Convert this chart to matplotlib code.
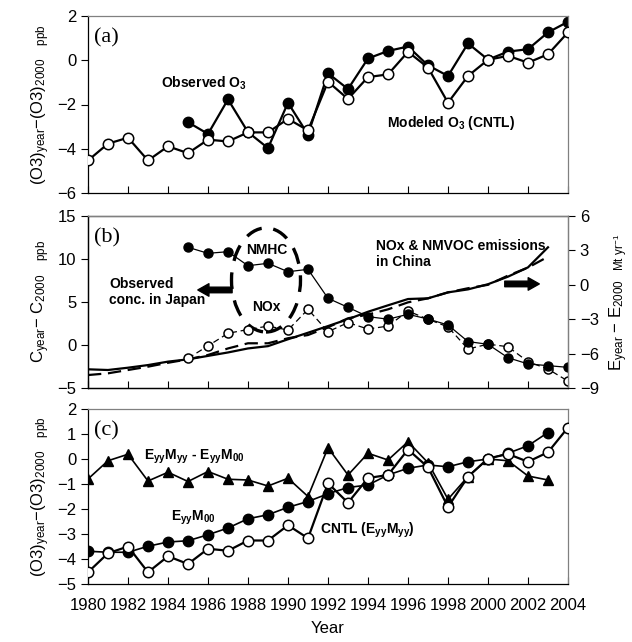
import matplotlib.pyplot as plt
from matplotlib.patches import Ellipse

plt.rcParams['font.family'] = ['Liberation Sans Narrow', 'Liberation Sans', 'DejaVu Sans']
plt.rcParams['mathtext.default'] = 'regular'
plt.rcParams['axes.linewidth'] = 0.9

years = list(range(1980, 2005))
obs_years = list(range(1985, 2005))
emis_years = list(range(1980, 2004))
eyy_years = list(range(1980, 2004))

# (a) surface O3 anomalies relative to 2000, ppb
obs_o3 = [-2.80, -3.33, -1.77, -3.25, -3.97, -1.92, -3.36, -0.59, -1.30, 0.08,
          0.42, 0.62, -0.23, -0.71, 0.76, 0.03, 0.39, 0.50, 1.26, 1.74]
cntl_o3 = [-4.53, -3.77, -3.50, -4.53, -3.89, -4.20, -3.59, -3.67, -3.26, -3.26,
           -2.65, -3.17, -0.97, -1.75, -0.76, -0.64, 0.38, -0.33, -1.92, -0.71,
           0.02, 0.20, -0.11, 0.27, 1.26]

# (b) observed precursor concentrations in Japan (left axis, ppb)
nmhc = [11.36, 10.66, 10.85, 9.22, 9.50, 8.52, 8.80, 5.43, 4.38, 3.30,
        3.00, 3.57, 3.02, 2.33, 0.40, 0.08, -1.48, -2.20, -2.40, -2.60]
nox_obs = [-1.55, -0.10, 1.36, 1.80, 2.20, 1.74, 4.15, 1.55, 2.60, 1.86,
           2.20, 3.95, 3.00, 2.10, -0.47, 0.10, -0.20, -1.94, -2.80, -4.20]

# (b) emissions in China relative to 2000 (right axis, Mt/yr)
nox_emis = [-7.37, -7.43, -7.23, -7.00, -6.70, -6.50, -6.20, -5.90, -5.55, -5.35,
            -4.75, -4.18, -3.60, -3.00, -2.35, -1.79, -1.24, -1.18, -0.66, -0.40,
            0.05, 0.71, 1.52, 3.27]
nmvoc_emis = [-7.87, -7.72, -7.43, -7.14, -6.80, -6.50, -6.12, -5.55, -5.10, -5.10,
              -4.66, -4.38, -3.70, -2.92, -2.60, -2.14, -1.53, -1.18, -0.66, -0.30,
              0.00, 0.80, 1.50, 2.45]

# (c) sensitivity runs
eyy_m00 = [-3.69, -3.73, -3.73, -3.49, -3.32, -3.27, -3.03, -2.76, -2.39, -2.23,
           -1.93, -1.70, -1.39, -1.14, -1.04, -0.64, -0.37, -0.24, -0.31, -0.11,
           0.00, 0.23, 0.53, 1.06]
met_effect = [-0.80, -0.07, 0.19, -0.88, -0.53, -0.90, -0.50, -0.81, -0.84, -1.08,
              -0.77, -1.50, 0.45, -0.64, 0.23, -0.04, 0.69, -0.15, -1.61, -0.70,
              0.00, -0.07, -0.68, -0.84]

xticks = list(range(1980, 2005, 2))

W_PX, H_PX = 632, 642
fig = plt.figure(figsize=(W_PX / 100, H_PX / 100), dpi=100)
L, W = 88 / W_PX, 480 / W_PX
ax_a = fig.add_axes([L, 1 - 193 / H_PX, W, 177 / H_PX])
ax_b = fig.add_axes([L, 1 - 388 / H_PX, W, 172 / H_PX])
ax_c = fig.add_axes([L, 1 - 584 / H_PX, W, 175 / H_PX])


def label(x, y, s, **kw):
    # place a bold annotation at pixel position (x, y) measured from top-left
    kw.setdefault('ha', 'center')
    kw.setdefault('va', 'center')
    fig.text(x / W_PX, 1 - y / H_PX, s, fontsize=10, weight='bold', **kw)


def style_axes(ax):
    ax.set_xlim(1980, 2004)
    ax.set_xticks(xticks)
    ax.tick_params(axis='x', direction='in', length=5, labelsize=12)
    ax.tick_params(axis='y', direction='out', length=5, labelsize=12)
    for s in ('top', 'right'):
        ax.spines[s].set_color('#808080')


open_kw = dict(marker='o', mfc='white', mec='black', mew=1.1, color='black')
fill_kw = dict(marker='o', mfc='black', mec='black', color='black')

# ---- panel (a)
style_axes(ax_a)
ax_a.plot(years, cntl_o3, lw=1.6, ms=7.5, zorder=3, **open_kw)
ax_a.plot(obs_years, obs_o3, lw=1.6, ms=7.5, zorder=2, **fill_kw)
ax_a.set_ylim(-6, 2)
ax_a.set_yticks([-6, -4, -2, 0, 2])
ax_a.set_xticklabels([])
ax_a.set_ylabel(r'(O3)$_{year}$−(O3)$_{2000}$   $_{ppb}$', fontsize=12, labelpad=4)
ax_a.text(0.012, 0.93, '(a)', transform=ax_a.transAxes, family='Liberation Serif',
          fontsize=16, va='top')
label(204, 83, 'Observed O$_3$')
label(451, 123, 'Modeled O$_3$ (CNTL)')

# ---- panel (b)
style_axes(ax_b)
ax_b2 = ax_b.twinx()
ax_b2.plot(emis_years, nox_emis, color='black', lw=1.6)
ax_b2.plot(emis_years, nmvoc_emis, color='black', lw=1.6, ls=(0, (6, 3)))
ax_b2.set_ylim(-9, 6)
ax_b2.set_yticks([-9, -6, -3, 0, 3, 6])
ax_b2.tick_params(axis='y', direction='out', length=5, labelsize=12)
ax_b2.spines['right'].set_color('#808080')
ax_b2.set_ylabel(r'E$_{year}$ − E$_{2000}$  $_{Mt\ yr^{-1}}$', fontsize=12,
                 labelpad=6)

ax_b.set_zorder(ax_b2.get_zorder() + 1)
ax_b.patch.set_visible(False)
ax_b.plot(obs_years, nox_obs, lw=0.9, ls=(0, (5, 3)), ms=6.5, **open_kw)
ax_b.plot(obs_years, nmhc, lw=0.9, ms=6.5, **fill_kw)
ax_b.set_ylim(-5, 15)
ax_b.set_yticks([-5, 0, 5, 10, 15])
ax_b.set_xticklabels([])
ax_b.set_ylabel(r'C$_{year}$− C$_{2000}$   $_{ppb}$', fontsize=12, labelpad=4)
ax_b.add_patch(Ellipse((1988.9, 7.56), 3.45, 12.1, fill=False, ec='black',
                       lw=2.4, ls=(0, (5, 3.5))))
ax_b.text(0.012, 0.93, '(b)', transform=ax_b.transAxes, family='Liberation Serif',
          fontsize=16, va='top')
label(267, 250, 'NMHC')
label(266, 307, 'NOx')
label(109, 292, 'Observed\nconc. in Japan', ha='left', linespacing=1.25)
label(376, 254, 'NOx & NMVOC emissions\nin China', ha='left', linespacing=1.25)
arrow = dict(arrowstyle='simple,head_length=0.8,head_width=0.9,tail_width=0.4',
             fc='black', ec='black', mutation_scale=10)
ax_b.annotate('', xy=(0.223, 0.57), xytext=(0.306, 0.57),
              xycoords='axes fraction', arrowprops=arrow)
ax_b.annotate('', xy=(0.946, 0.605), xytext=(0.8625, 0.605),
              xycoords='axes fraction', arrowprops=arrow)

# ---- panel (c)
style_axes(ax_c)
ax_c.plot(eyy_years, met_effect, color='black', lw=1.2, marker='^', ms=7.5)
ax_c.plot(years, cntl_o3, lw=1.6, ms=7.5, zorder=3, **open_kw)
ax_c.plot(eyy_years, eyy_m00, lw=1.2, ms=7.5, zorder=2, **fill_kw)
ax_c.set_ylim(-5, 2)
ax_c.set_yticks(range(-5, 3))
ax_c.set_ylabel(r'(O3)$_{year}$−(O3)$_{2000}$   $_{ppb}$', fontsize=12, labelpad=4)
ax_c.tick_params(axis='x', pad=10)
ax_c.set_xlabel('Year', fontsize=12, labelpad=6)
ax_c.text(0.012, 0.93, '(c)', transform=ax_c.transAxes, family='Liberation Serif',
          fontsize=16, va='top')
label(194, 457, r'E$_{yy}$M$_{yy}$ - E$_{yy}$M$_{00}$')
label(193, 518, r'E$_{yy}$M$_{00}$')
label(367, 530, r'CNTL (E$_{yy}$M$_{yy}$)')

fig.savefig('out.png', dpi=100)
